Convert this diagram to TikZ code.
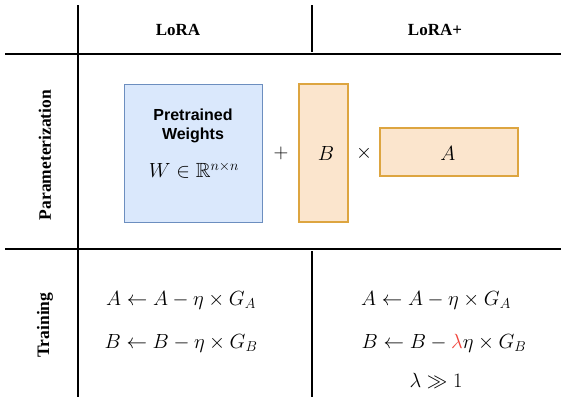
\documentclass[tikz,border=0pt]{standalone}
\usepackage{fix-cm}
\usepackage{amsmath,amssymb}
\usepackage{fontspec}
\setmainfont{Liberation Serif}
\newfontfamily\helv{Liberation Sans}
\definecolor{bluefill}{HTML}{DAE8FC}
\definecolor{bluedraw}{HTML}{6C8EBF}
\definecolor{orfill}{HTML}{FBE5CD}
\definecolor{ordraw}{HTML}{DDA540}
\definecolor{lamred}{HTML}{F0433A}
\tikzset{
  gridline/.style={line width=1.1pt, black},
  header/.style={font=\fontsize{17}{20}\selectfont\bfseries},
  rowlabel/.style={font=\fontsize{17.5}{20}\selectfont\bfseries, rotate=90},
  mtext/.style={font=\fontsize{20.5}{24}\selectfont},
  bluebox/.style={draw=bluedraw, fill=bluefill, line width=1pt},
  orbox/.style={draw=ordraw, fill=orfill, line width=1.2pt},
}
\begin{document}
\begin{tikzpicture}[x=1pt,y=-1pt]
\useasboundingbox (0,0) rectangle (561,402);
% grid
\coordinate (vt) at (78,5); \coordinate (vb) at (78,397);
\coordinate (h1l) at (5,54); \coordinate (h1r) at (561,54);
\coordinate (h2l) at (5,249); \coordinate (h2r) at (561,249);
\coordinate (mt) at (312,5); \coordinate (mtb) at (312,52);
\coordinate (mb) at (312,251); \coordinate (mbb) at (312,397);
\draw[gridline] (vt) -- (vb);
\draw[gridline] (h1l) -- (h1r);
\draw[gridline] (h2l) -- (h2r);
\draw[gridline] (mt) -- (mtb);
\draw[gridline] (mb) -- (mbb);
% headers
\node[header] (lora) at (178,30) {LoRA};
\node[header] (lorap) at (435,30) {LoRA+};
\node[rowlabel] (param) at (45,155) {Parameterization};
\node[rowlabel] (train) at (45,325) {Training};
% boxes
\node[bluebox, minimum width=138pt, minimum height=138pt, inner sep=0pt] (W) at (193,153) {};
\node[font=\helv\bfseries\fontsize{16}{18.5}\selectfont, align=center] (pw) at (193,126) {Pretrained\\Weights};
\node[mtext] (weq) at (194,170) {$W \in \mathbb{R}^{n\times n}$};
\node[mtext] (plus) at (281,153) {$+$};
\node[orbox, minimum width=49pt, minimum height=138pt, inner sep=0pt] (B) at (323.5,153) {};
\node[mtext] (Bl) at (326,153) {$B$};
\node[mtext] (times) at (364,153) {$\times$};
\node[orbox, minimum width=138pt, minimum height=48pt, inner sep=0pt] (A) at (449,152) {};
\node[mtext] (Al) at (448,153) {$A$};
% training
\node[mtext] (l1) at (181,300) {$A \leftarrow A - \eta \times G_A$};
\node[mtext] (l2) at (181,343) {$B \leftarrow B - \eta \times G_B$};
\node[mtext] (r1) at (436,300) {$A \leftarrow A - \eta \times G_A$};
\node[mtext] (r2) at (444,343) {$B \leftarrow B - {\color{lamred}\lambda} \eta \times G_B$};
\node[mtext] (r3) at (436,381) {$\lambda \gg 1$};
\end{tikzpicture}
\end{document}
